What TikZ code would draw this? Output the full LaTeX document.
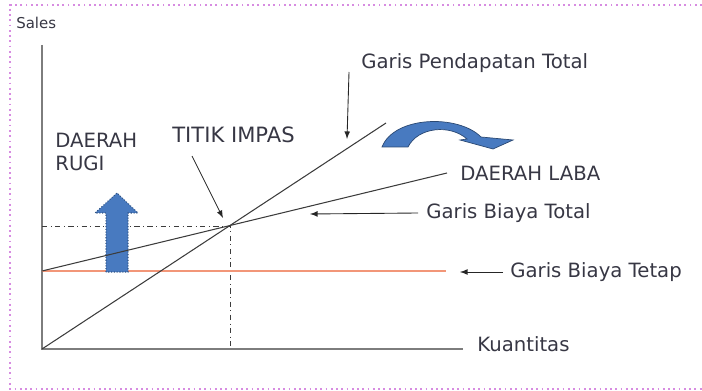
\documentclass[tikz,border=0pt]{standalone}
\usepackage{fontspec}
\setmainfont{DejaVu Sans}
\usetikzlibrary{shapes,arrows,positioning,calc}
\definecolor{txtgray}{RGB}{55,55,68}
\definecolor{axisgray}{RGB}{125,125,125}
\definecolor{linegray}{RGB}{60,60,60}
\definecolor{tetaporange}{RGB}{242,150,120}
\definecolor{arrowblue}{RGB}{72,122,192}
\definecolor{borderpink}{RGB}{215,140,225}

\begin{document}
\begin{tikzpicture}[x=0.02cm,y=-0.02cm,
  lbl/.style={inner sep=0pt,anchor=west,text=txtgray,font=\fontsize{11.2}{12.6}\selectfont},
  axis/.style={draw=axisgray,line width=1.1pt},
  garis/.style={draw=linegray,line width=0.6pt},
  pointer/.style={draw=black!85,line width=0.5pt,-latex}]
\useasboundingbox (0,0) rectangle (702,391);
\draw[borderpink,dotted,line width=1pt] (702,5) -- (10,5) -- (10,389) -- (702,389);

\coordinate (ytop) at (42,45);
\coordinate (O) at (42,349);
\coordinate (xend) at (463,349);
\coordinate (impas) at (230,226);
\coordinate (tetapA) at (42,271);
\coordinate (tetapB) at (446,271);
\coordinate (totalB) at (447,173);
\coordinate (pendB) at (386,123);

\draw[axis] (ytop) -- (O) -- (xend);
\draw[draw=linegray,line width=0.5pt,dashdotted] (42,226) -- (impas) -- (230,349);
\draw[draw=tetaporange,line width=1pt] (tetapA) -- (tetapB);

\draw[arrowblue,draw=arrowblue!70!black,densely dotted,line width=0.6pt,fill=arrowblue]
  (106,272) -- (106,213) -- (95,213) -- (117,193) -- (138,213) -- (128,213) -- (128,272) -- cycle;

\draw[garis] (O) -- (pendB);
\draw[garis] (tetapA) -- (totalB);

\fill[arrowblue,draw=arrowblue!60!black,line width=0.4pt]
  (382,147) .. controls (394,116) and (458,114) .. (481,137) -- (513,140) -- (493,149)
  -- (460,140) -- (467,139) .. controls (450,124) and (418,127) .. (408,147) -- cycle;

\node[lbl,font=\fontsize{8.5}{10}\selectfont] (sales) at (16,23) {Sales};
\node[lbl] (kuantitas) at (477,344) {Kuantitas};
\node[lbl] (pendapatan) at (361,63) {Garis Pendapatan Total};
\node[lbl] (laba) at (460,173) {DAERAH LABA};
\node[lbl] (biayatotal) at (426,213) {Garis Biaya Total};
\node[lbl] (biayatetap) at (510,272) {Garis Biaya Tetap};
\node[lbl,align=left] (rugi) at (55,152) {DAERAH\\RUGI};
\node[lbl,font=\fontsize{12}{14}\selectfont] (titik) at (172,135) {TITIK IMPAS};

\coordinate (pendA) at (349,72);
\coordinate (pendT) at (347,139);
\coordinate (titikA) at (192,156);
\coordinate (titikT) at (223,218);
\coordinate (totalA) at (418,213);
\coordinate (totalT) at (310,214);
\coordinate (tetapC) at (503,272);
\coordinate (tetapT) at (460,272);

\draw[pointer] (pendA) -- (pendT);
\draw[pointer] (titikA) -- (titikT);
\draw[pointer] (totalA) -- (totalT);
\draw[pointer] (tetapC) -- (tetapT);
\end{tikzpicture}
\end{document}
